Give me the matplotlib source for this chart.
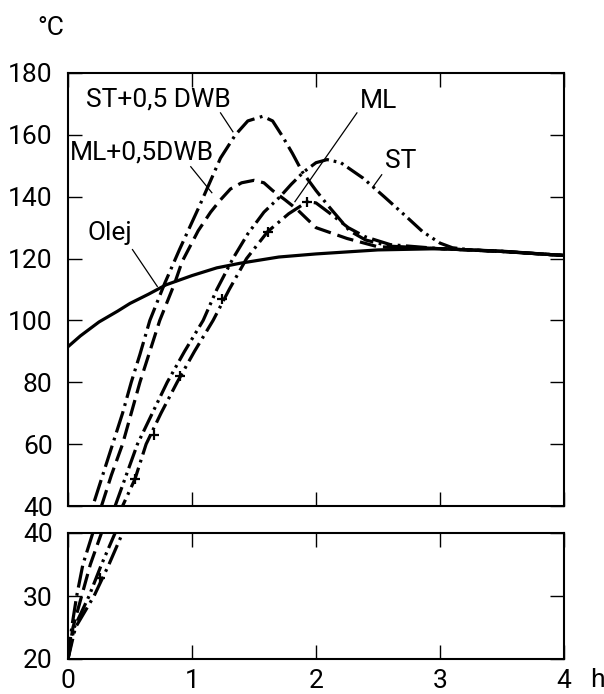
import matplotlib
matplotlib.use("Agg")
import matplotlib.pyplot as plt

plt.rcParams['font.family'] = ['Roboto', 'DejaVu Sans']
plt.rcParams['lines.scale_dashes'] = False

# ---- data (hours, °C) ----
olej_x = [0, 0.1, 0.25, 0.4, 0.5, 0.65, 0.79, 1.0, 1.2, 1.39, 1.7, 2.0, 2.5, 3.0, 3.5, 4.0]
olej_y = [91.5, 95, 99.5, 103, 105.5, 108.5, 111.5, 114.5, 117, 118.5, 120.5, 121.5, 122.8, 123.2, 122.4, 121]

st_dwb_x = [0, 0.03, 0.07, 0.12, 0.2, 0.28, 0.36, 0.44, 0.51, 0.58, 0.66, 0.78, 0.9, 1.06, 1.23,
            1.35, 1.45, 1.57, 1.65, 1.73, 1.81, 1.89, 2.0, 2.1, 2.27, 2.4, 2.6, 3.0, 3.5, 4.0]
st_dwb_y = [20, 25, 30, 35, 40, 50, 60, 70, 80, 89, 100, 112, 123, 137, 152.5,
            160, 164.5, 166, 164.5, 159.5, 154, 148, 142, 137, 129, 126, 124, 123.2, 122.3, 121]

ml_dwb_x = [0, 0.04, 0.11, 0.18, 0.27, 0.35, 0.44, 0.51, 0.58, 0.66, 0.74, 0.86, 0.92, 1.05, 1.15,
            1.23, 1.31, 1.4, 1.5, 1.58, 1.65, 1.75, 1.85, 2.0, 2.25, 2.5, 3.0, 3.5, 4.0]
ml_dwb_y = [20, 25, 30, 35, 40, 50, 60, 70, 80, 90, 100, 112, 119, 129, 135,
            139, 142.5, 144.5, 145.3, 144.5, 142, 139, 135.8, 130, 126.5, 123.8, 123.2, 122.3, 121]

st_x = [0, 0.05, 0.17, 0.27, 0.38, 0.47, 0.56, 0.68, 0.8, 0.94, 1.09, 1.2, 1.33, 1.45, 1.58, 1.71,
        1.8, 1.9, 2.0, 2.09, 2.2, 2.38, 2.55, 2.73, 2.86, 3.0, 3.1, 3.25, 3.5, 4.0]
st_y = [20, 25, 30, 35, 40, 50, 60, 70, 80, 90, 100, 110, 120, 128, 135, 140,
        144, 148, 151, 152, 151, 146, 140, 133.5, 128.7, 125, 123.5, 122.8, 122.3, 121]

ml_x = [0, 0.06, 0.21, 0.33, 0.44, 0.54, 0.63, 0.75, 0.88, 1.02, 1.17, 1.3, 1.44, 1.61, 1.78,
        1.93, 2.0, 2.1, 2.26, 2.4, 2.6, 3.0, 3.5, 4.0]
ml_y = [20, 25, 30, 35, 40, 48.7, 60, 70, 80, 90, 100, 110, 120, 128.7, 134.5,
        138.4, 138, 135, 130, 127, 124.5, 123.2, 122.3, 121]

ml_cross_x = [0.26, 0.54, 0.69, 0.9, 1.24, 1.61, 1.93]
ml_cross_y = [32.9, 48.7, 63, 82, 107, 128.7, 138.4]

top_yticks = [40, 60, 80, 100, 120, 140, 160, 180]
bot_yticks = [20, 30, 40]
xticks = [0, 1, 2, 3, 4]

# ---- figure ----
W, H = 604, 694
fig = plt.figure(figsize=(W / 100, H / 100), dpi=100)
ax_top = fig.add_axes([68 / W, 1 - 506 / H, (564 - 68) / W, (506 - 73) / H])
ax_bot = fig.add_axes([68 / W, 1 - 659 / H, (564 - 68) / W, (659 - 533) / H])

lw = 2.3
styles = [
    (st_dwb_x, st_dwb_y, (0, (16, 4, 2, 4))),
    (ml_dwb_x, ml_dwb_y, (0, (12, 5))),
    (st_x, st_y, (0, (14, 3.5, 2, 3.5, 2, 3.5))),
    (ml_x, ml_y, (0, (15, 4, 2, 4))),
]

FS = 19
for ax in (ax_top, ax_bot):
    ax.plot(olej_x, olej_y, color='black', lw=lw, solid_capstyle='butt')
    for xs, ys, ls in styles:
        ax.plot(xs, ys, color='black', lw=lw, linestyle=ls)
    ax.plot(ml_cross_x, ml_cross_y, linestyle='none', marker='+', color='black',
            markersize=7, markeredgewidth=1.6)
    ax.set_xlim(0, 4)
    for s in ax.spines.values():
        s.set_linewidth(1.5)
    ax.tick_params(direction='in', length=10, width=1.0, top=True, right=True,
                   labelsize=FS)
    ax.tick_params(axis='y', pad=11)
    ax.tick_params(axis='x', pad=7)

ax_top.set_ylim(40, 180)
ax_top.set_yticks(top_yticks)
ax_top.set_xticks(xticks)
ax_top.tick_params(labelbottom=False)

ax_bot.set_ylim(20, 40)
ax_bot.set_yticks(bot_yticks)
ax_bot.set_xticks(xticks)

# ---- annotations ----
tk = dict(fontsize=FS, ha='center', va='center')
lk = dict(color='black', lw=0.9)
ax_top.text(0.73, 171.3, 'ST+0,5 DWB', **tk)
ax_top.plot([1.23, 1.33], [167.1, 161.0], **lk)
ax_top.text(0.60, 154.2, 'ML+0,5DWB', **tk)
ax_top.plot([0.99, 1.16], [149.7, 141.3], **lk)
ax_top.text(2.50, 171.0, 'ML', **tk)
ax_top.plot([2.33, 1.83], [167.1, 138.4], **lk)
ax_top.text(2.68, 151.6, 'ST', **tk)
ax_top.plot([2.53, 2.46], [147.1, 143.2], **lk)
ax_top.text(0.34, 128.4, 'Olej', **tk)
ax_top.plot([0.52, 0.72], [122.9, 111.0], **lk)

fig.text(51 / W, 1 - 28 / H, '°C', fontsize=FS, ha='center', va='center')
fig.text(597 / W, 1 - 680 / H, 'h', fontsize=FS, ha='center', va='center')

fig.savefig('out.png', dpi=100)
